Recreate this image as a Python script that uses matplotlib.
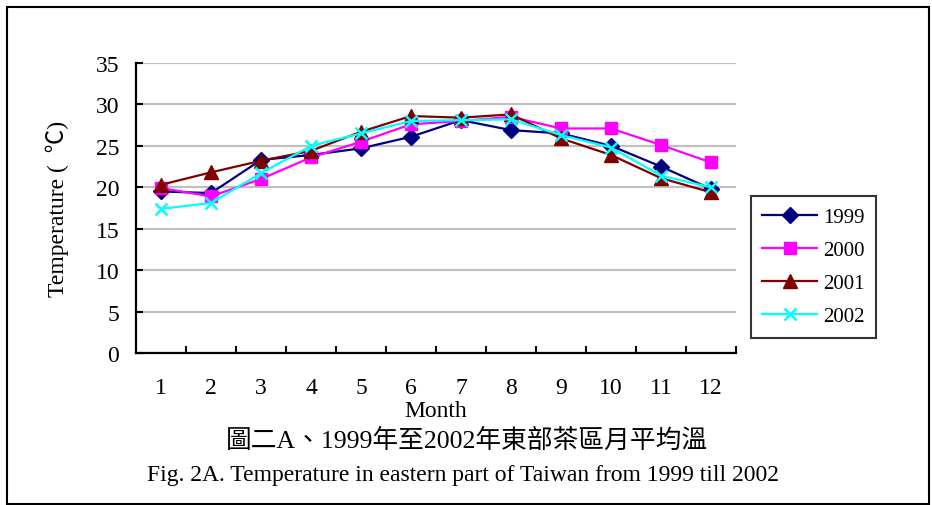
import numpy as np
import matplotlib
matplotlib.use('Agg')
import matplotlib.pyplot as plt
from matplotlib.patches import Rectangle

# monthly mean temperature, eastern tea district
months = [1, 2, 3, 4, 5, 6, 7, 8, 9, 10, 11, 12]
t1999 = [19.5, 19.3, 23.3, 23.9, 24.7, 26.1, 28.1, 26.9, 26.5, 25.0, 22.5, 19.8]
t2000 = [19.9, 18.9, 21.0, 23.6, 25.5, 27.6, 28.0, 28.5, 27.1, 27.1, 25.1, 23.0]
t2001 = [20.3, 21.8, 23.2, 24.4, 26.7, 28.6, 28.4, 28.8, 25.9, 23.9, 21.1, 19.4]
t2002 = [17.4, 18.1, 21.7, 25.0, 26.5, 28.0, 28.1, 28.2, 26.3, 24.8, 21.4, 20.0]
years = ['1999', '2000', '2001', '2002']

plt.rcParams['font.family'] = ['Liberation Serif', 'Noto Sans CJK TC']

fig = plt.figure(figsize=(9.32, 5.06), dpi=100)
ax = fig.add_axes([136/932, 1-354/506, 600/932, 290/506])

styles = [
	dict(color='#000080', marker='D', markersize=8),
	dict(color='#ff00ff', marker='s', markersize=8.5),
	dict(color='#800000', marker='^', markersize=10),
	dict(color='#00ffff', marker='x', markersize=8, markeredgewidth=1.8),
]
series = [t1999, t2000, t2001, t2002]
for vals, name, st in zip(series, years, styles):
	ax.plot(months, vals, linewidth=1.6, label=name, **st)

ax.set_xlim(0.5, 12.5)
ax.set_ylim(0, 35)
ax.set_yticks(np.arange(0, 36, 5))
ax.set_xticks(months)
ax.set_xticks(np.arange(1.5, 12.6, 1), minor=True)
ax.tick_params(axis='x', which='major', length=0, labelsize=17, pad=17)
ax.tick_params(axis='x', which='minor', length=5, width=1.5, direction='in')
ax.tick_params(axis='y', length=5, width=1.5, direction='in', labelsize=17, pad=12)
ax.yaxis.grid(True, color='#c0c0c0', linewidth=1.6)
ax.set_axisbelow(True)
for s in ['top', 'right']:
	ax.spines[s].set_visible(False)
for s in ['left', 'bottom']:
	ax.spines[s].set_linewidth(1.6)

ax.set_ylabel('Temperature (  ℃)', fontsize=17, labelpad=19)
ax.set_xlabel('Month', fontsize=17, labelpad=2)

leg = fig.legend(loc='upper left', bbox_to_anchor=(751/932, 1-197/506), borderaxespad=0,
				 fontsize=15, frameon=True, fancybox=False, edgecolor='black',
				 handlelength=2.6, handletextpad=0.3, labelspacing=0.65, borderpad=0.55)
leg.get_frame().set_linewidth(1.5)

fig.text(467/932, 1-441/506, '圖二A、1999年至2002年東部茶區月平均溫', fontsize=18.5,
		 ha='center', va='center')
fig.text(463/932, 1-476/506, 'Fig. 2A. Temperature in eastern part of Taiwan from 1999 till 2002',
		 fontsize=17, ha='center', va='center')

# frame around the whole figure
fig.patches.append(Rectangle((7/932, 1/506), 922/932, 497/506, transform=fig.transFigure,
							 fill=False, edgecolor='black', linewidth=1.5))

fig.savefig('out.png', dpi=100)
